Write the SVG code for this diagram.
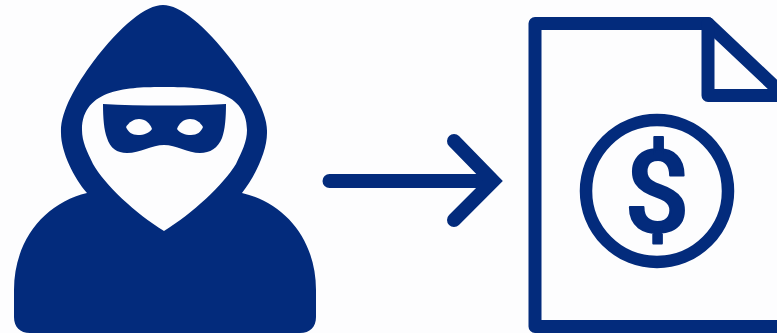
<svg xmlns="http://www.w3.org/2000/svg" width="777" height="333" viewBox="0 0 777 333">
<style>
.ink{fill:#032b7c}
.hole{fill:#fdfdfe}
.line{fill:none;stroke:#032b7c;stroke-width:13;stroke-linejoin:round;stroke-linecap:round}
.arrow{fill:none;stroke:#032b7c;stroke-width:14;stroke-linecap:round;stroke-linejoin:miter}
.sign{font-family:Roboto,"Liberation Sans",sans-serif;font-size:115px;font-weight:500;fill:#032b7c;stroke:#032b7c;stroke-width:2;stroke-linejoin:round;text-anchor:middle}
</style>
<rect width="777" height="333" class="hole"/>
<g id="thief">
<path class="ink" d="M163 5C180 5 205 25 233 62C250 85 268 112 267 133C267 152 254 178 242 193C285 203 316 240 316 290L316 317C316 327 310 333 300 333L30 333C20 333 14 327 14 317L14 290C14 240 45 203 87 193C74 178 61 152 61 133C60 112 76 85 93 62C121 25 146 5 163 5Z"/>
<path class="hole" d="M164 87C130 87 82 88 82 130C82 142 87 151 93 164C105 185 135 213 164 231C193 213 223 185 236 164C242 151 247 142 247 130C247 88 198 87 164 87Z"/>
<path class="ink" d="M103 104C140 106 188 106 226 104C226 118 225 130 222 138C218 148 210 153 200 153C188 153 176 145 164 145C152 145 140 153 127 153C117 153 110 148 107 138C104 130 103 118 103 104Z"/>
<path class="hole" d="M126 127C129 122 134 119 139 119C145 119 150 123 152 129C149 133 144 135 138 135C132 135 128 132 126 127Z"/>
<path class="hole" d="M177 129C179 123 184 119 190 119C196 119 200 122 203 127C201 132 197 135 191 135C185 135 180 133 177 129Z"/>
</g>
<g id="connectors">
<path class="arrow" d="M329.500 181L490 181"/>
<path class="arrow" d="M454 141L493 181L454 220"/>
</g>
<g id="invoice">
<path class="line" d="M777 326.500L535 326.500L535 23.500L708 23.500L790 101"/>
<path class="line" d="M708 23.500L708 95.500L790 95.500"/>
<circle cx="657" cy="191" r="71" fill="none" stroke="#032b7c" stroke-width="12.500"/>
<text class="sign" x="657" y="232">$</text>
</g>
</svg>
